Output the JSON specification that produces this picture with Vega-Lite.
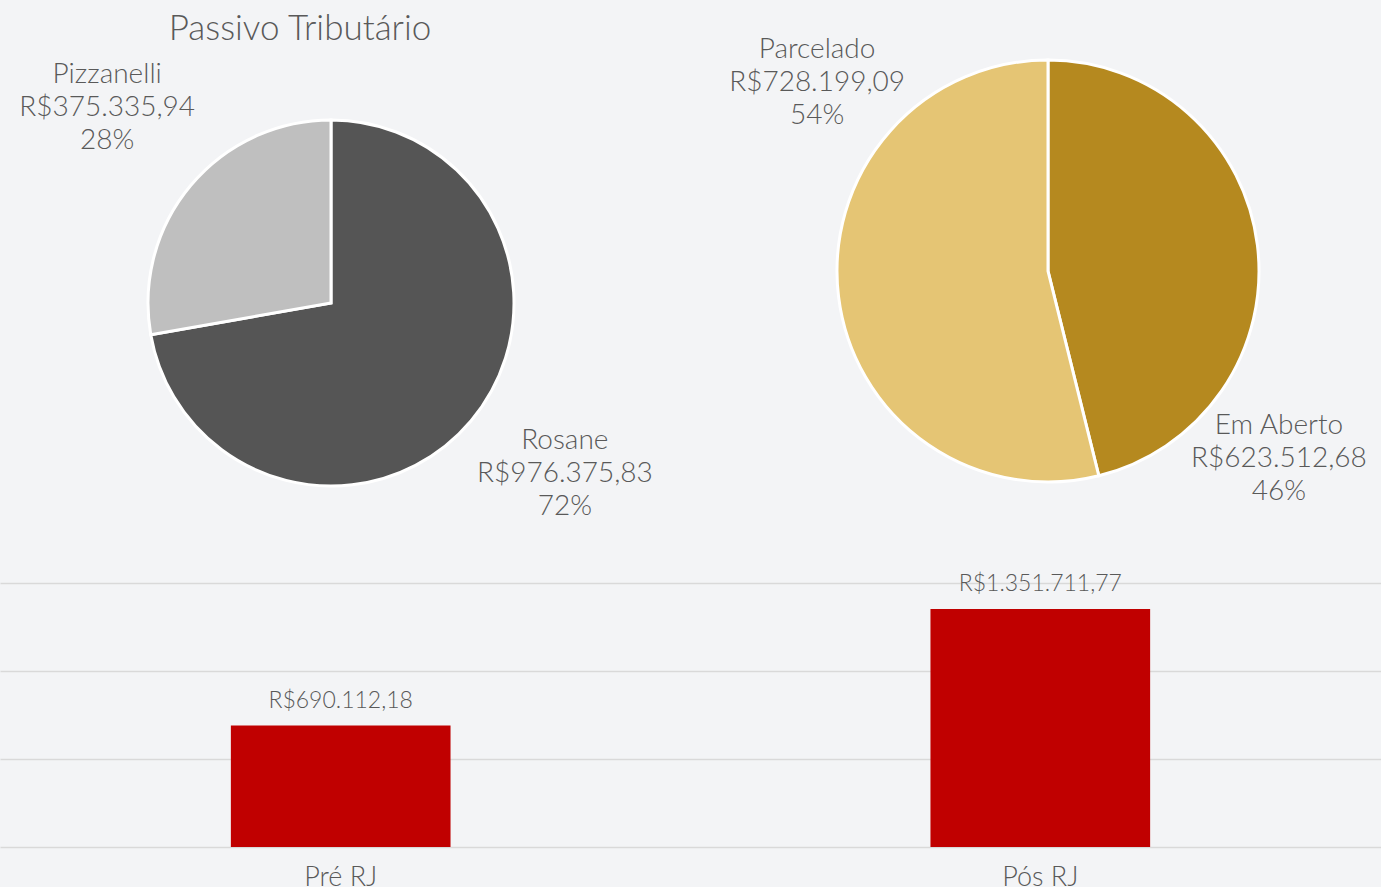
{
  "$schema": "https://vega.github.io/schema/vega-lite/v6.json",
  "background": "#f3f4f6",
  "padding": {"left": 0, "top": 12, "right": 0, "bottom": 0},
  "datasets": {
    "tributario": [
      {"nome": "Rosane", "valor": 976375.83, "pct": 0.72, "ordem": 1},
      {"nome": "Pizzanelli", "valor": 375335.94, "pct": 0.28, "ordem": 2}
    ],
    "situacao": [
      {"nome": "Em Aberto", "valor": 623512.68, "pct": 0.46, "ordem": 1},
      {"nome": "Parcelado", "valor": 728199.09, "pct": 0.54, "ordem": 2}
    ],
    "rj": [
      {"fase": "Pré RJ", "valor": 690112.18},
      {"fase": "Pós RJ", "valor": 1351711.77}
    ]
  },
  "spacing": 15,
  "vconcat": [
    {
      "spacing": 53,
      "bounds": "flush",
      "resolve": {"scale": {"color": "independent", "theta": "independent"}},
      "hconcat": [
        {
          "width": 662,
          "height": 510,
          "title": {"text": "Passivo Tributário", "fontSize": 35, "color": "#595959", "font": "Lato", "fontWeight": 300, "dx": -31, "offset": 1, "anchor": "middle"},
          "data": {"name": "tributario"},
          "encoding": {
            "order": {"field": "ordem", "type": "quantitative"},
            "detail": {"field": "nome", "type": "nominal"}
          },
          "resolve": {"scale": {"theta": "independent"}},
          "layer": [
            {
              "mark": {"type": "arc", "outerRadius": 183, "stroke": "#ffffff", "strokeWidth": 3},
              "encoding": {
                "theta": {"field": "valor", "type": "quantitative", "stack": true},
                "color": {"field": "nome", "type": "nominal", "scale": {"domain": ["Rosane", "Pizzanelli"], "range": ["#555555", "#bfbfbf"]}, "legend": null}
              }
            },
            {
              "mark": {"type": "text", "radius": 293, "dx": 5, "dy": -45, "fontSize": 28, "font": "Lato", "fontWeight": 300, "color": "#595959"},
              "encoding": {
                "theta": {"field": "valor", "type": "quantitative", "stack": true, "scale": {"range": [-0.0239, 6.2593]}},
                "text": {"field": "nome", "type": "nominal"}
              }
            },
            {
              "mark": {"type": "text", "radius": 293, "dx": 5, "dy": -12, "fontSize": 28, "font": "Lato", "fontWeight": 300, "color": "#595959"},
              "encoding": {
                "theta": {"field": "valor", "type": "quantitative", "stack": true, "scale": {"range": [-0.0239, 6.2593]}},
                "text": {"field": "valor", "type": "quantitative", "format": "$,.2f"}
              }
            },
            {
              "mark": {"type": "text", "radius": 293, "dx": 5, "dy": 21, "fontSize": 28, "font": "Lato", "fontWeight": 300, "color": "#595959"},
              "encoding": {
                "theta": {"field": "valor", "type": "quantitative", "stack": true, "scale": {"range": [-0.0239, 6.2593]}},
                "text": {"field": "pct", "type": "quantitative", "format": ".0%"}
              }
            }
          ]
        },
        {
          "width": 666,
          "height": 446,
          "data": {"name": "situacao"},
          "encoding": {
            "order": {"field": "ordem", "type": "quantitative"},
            "detail": {"field": "nome", "type": "nominal"}
          },
          "resolve": {"scale": {"theta": "independent"}},
          "layer": [
            {
              "mark": {"type": "arc", "outerRadius": 211, "stroke": "#ffffff", "strokeWidth": 3},
              "encoding": {
                "theta": {"field": "valor", "type": "quantitative", "stack": true},
                "color": {"field": "nome", "type": "nominal", "scale": {"domain": ["Em Aberto", "Parcelado"], "range": ["#b5891f", "#e5c574"]}, "legend": null}
              }
            },
            {
              "mark": {"type": "text", "radius": 298, "dy": -33, "fontSize": 28, "font": "Lato", "fontWeight": 300, "color": "#595959"},
              "encoding": {
                "theta": {"field": "valor", "type": "quantitative", "stack": true, "scale": {"range": [0.806, 7.089]}},
                "text": {"field": "nome", "type": "nominal"}
              }
            },
            {
              "mark": {"type": "text", "radius": 298, "fontSize": 28, "font": "Lato", "fontWeight": 300, "color": "#595959"},
              "encoding": {
                "theta": {"field": "valor", "type": "quantitative", "stack": true, "scale": {"range": [0.806, 7.089]}},
                "text": {"field": "valor", "type": "quantitative", "format": "$,.2f"}
              }
            },
            {
              "mark": {"type": "text", "radius": 298, "dy": 33, "fontSize": 28, "font": "Lato", "fontWeight": 300, "color": "#595959"},
              "encoding": {
                "theta": {"field": "valor", "type": "quantitative", "stack": true, "scale": {"range": [0.806, 7.089]}},
                "text": {"field": "pct", "type": "quantitative", "format": ".0%"}
              }
            }
          ]
        }
      ]
    },
    {
      "width": 1381,
      "height": 264,
      "data": {"name": "rj"},
      "encoding": {
        "x": {
          "field": "fase", "type": "nominal", "sort": ["Pré RJ", "Pós RJ"],
          "scale": {"paddingInner": 0.686, "paddingOuter": 0.33},
          "axis": {"title": null, "labelAngle": 0, "ticks": false, "domain": false, "labelFontSize": 27, "labelFont": "Lato", "labelFontWeight": 300, "labelColor": "#595959", "labelPadding": 17}
        },
        "y": {
          "field": "valor", "type": "quantitative",
          "scale": {"domain": [0, 1500000], "nice": false},
          "axis": {"title": null, "labels": false, "ticks": false, "domain": false, "values": [0, 500000, 1000000, 1500000], "gridColor": "#d9d9d9", "gridWidth": 1.5}
        }
      },
      "layer": [
        {"mark": {"type": "bar", "color": "#c00000"}},
        {
          "mark": {"type": "text", "baseline": "bottom", "dy": -13, "fontSize": 23, "font": "Lato", "fontWeight": 300, "color": "#595959"},
          "encoding": {"text": {"field": "valor", "type": "quantitative", "format": "$,.2f"}}
        }
      ]
    }
  ],
  "config": {
    "view": {"stroke": null},
    "locale": {"number": {"decimal": ",", "thousands": ".", "grouping": [3], "currency": ["R$", ""]}}
  }
}
